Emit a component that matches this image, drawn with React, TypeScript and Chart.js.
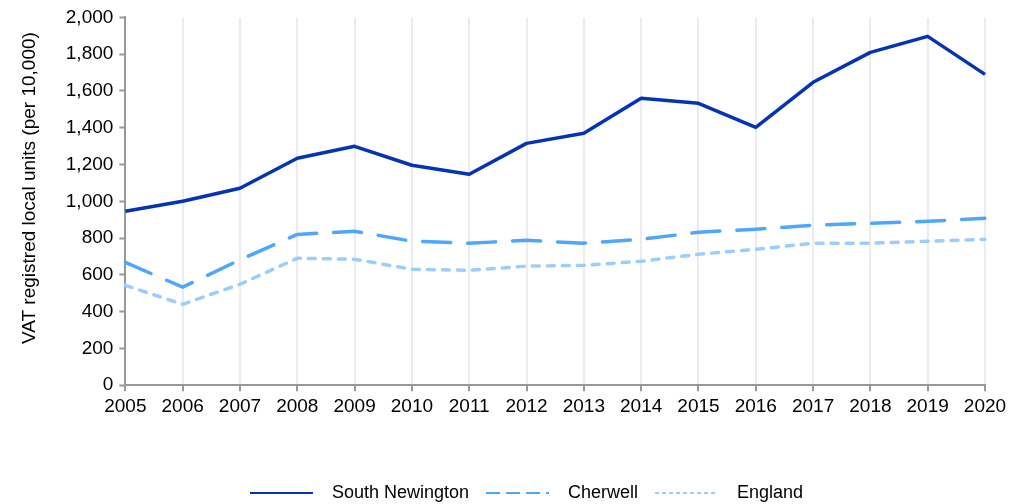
import React, { useEffect, useRef } from "react";
import { Chart, registerables } from "chart.js";

Chart.register(...registerables);

const years = ["2005","2006","2007","2008","2009","2010","2011","2012","2013","2014","2015","2016","2017","2018","2019","2020"];
const southNewington = [946, 1000, 1071, 1234, 1299, 1196, 1147, 1315, 1370, 1560, 1533, 1402, 1647, 1810, 1897, 1690];
const cherwell = [668, 533, 682, 820, 837, 783, 772, 788, 772, 793, 832, 848, 870, 880, 891, 908];
const england = [543, 440, 549, 690, 685, 630, 625, 647, 652, 674, 712, 739, 772, 772, 783, 793];
const yTicks = [0, 200, 400, 600, 800, 1000, 1200, 1400, 1600, 1800, 2000];
const yTitle = "     VAT registred local units (per 10,000)";

const FONT = "'Liberation Sans', Arial, sans-serif";
const COLORS = ["#0533b5", "#4da6ff", "#9dcdff"];
const LEGEND_DASH = [[], [14, 6], [4, 3]];

function legendLine(color: string, dash: number[]) {
  const c = document.createElement("canvas");
  c.width = 73;
  c.height = 6;
  const ctx = c.getContext("2d")!;
  ctx.strokeStyle = color;
  ctx.lineWidth = 2.2;
  ctx.setLineDash(dash);
  ctx.beginPath();
  ctx.moveTo(0, 3);
  ctx.lineTo(63, 3);
  ctx.stroke();
  return c;
}

export default function App() {
  const ref = useRef<HTMLCanvasElement | null>(null);
  useEffect(() => {
    if (!ref.current) return;
    const images = COLORS.map((c, i) => legendLine(c, LEGEND_DASH[i]));
    const shiftLegend = {
      id: "shiftLegend",
      afterLayout(chart: any) {
        const l = chart.legend;
        if (l) { l.left += 25; l.right += 25; }
      },
    };
    const chart = new Chart(ref.current, {
      type: "line",
      data: {
        labels: years,
        datasets: [
          { label: "South Newington", data: southNewington, borderColor: COLORS[0], backgroundColor: COLORS[0], borderWidth: 3.5, pointRadius: 0, tension: 0, borderJoinStyle: "round" },
          { label: "Cherwell", data: cherwell, borderColor: COLORS[1], backgroundColor: COLORS[1], borderWidth: 3.5, borderDash: [28, 17], borderCapStyle: "round", pointRadius: 0, tension: 0 },
          { label: "England", data: england, borderColor: COLORS[2], backgroundColor: COLORS[2], borderWidth: 3.5, borderDash: [7, 8], borderCapStyle: "round", pointRadius: 0, tension: 0 },
        ],
      },
      plugins: [shiftLegend],
      options: {
        animation: false,
        responsive: false,
        maintainAspectRatio: false,
        layout: { padding: { left: 18, right: 40, top: 5, bottom: -8 } },
        plugins: {
          tooltip: { enabled: false },
          legend: {
            position: "bottom",
            labels: {
              usePointStyle: true,
              pointStyleWidth: 73,
              color: "#000",
              font: { family: FONT, size: 18 },
              padding: 17,
              generateLabels: (c: any) => {
                const items = Chart.defaults.plugins.legend.labels.generateLabels(c);
                return items.map((it: any, i: number) => ({ ...it, pointStyle: images[i], lineWidth: 0 }));
              },
            },
          },
        },
        scales: {
          x: {
            type: "category",
            offset: false,
            grid: { display: true, color: "#ececec", lineWidth: 2, drawTicks: true, tickLength: 6, tickColor: "#999", tickWidth: 2 },
            border: { display: true, color: "#999", width: 2 },
            ticks: { color: "#000", font: { family: FONT, size: 19 }, padding: 4, maxRotation: 0, autoSkip: false },
            afterFit: (s: any) => { s.height += 45; },
          },
          y: {
            min: 0,
            max: 2000,
            afterBuildTicks: (s: any) => { s.ticks = yTicks.map((v) => ({ value: v })); },
            grid: { display: true, drawOnChartArea: false, drawTicks: true, tickLength: 6, tickColor: "#999", tickWidth: 2 },
            border: { display: true, color: "#999", width: 2 },
            ticks: { color: "#000", font: { family: FONT, size: 19 }, padding: 6, callback: (v: any) => Number(v).toLocaleString("en-US") },
            title: { display: true, text: yTitle, color: "#000", font: { family: FONT, size: 19 }, padding: { top: 0, bottom: 19 } },
          },
        },
      } as any,
    });
    return () => chart.destroy();
  }, []);
  return (
    <div style={{ position: "absolute", left: 0, top: 0, width: 1025, height: 504, background: "#fff" }}>
      <canvas ref={ref} width={1025} height={504} style={{ width: 1025, height: 504 }} />
    </div>
  );
}
